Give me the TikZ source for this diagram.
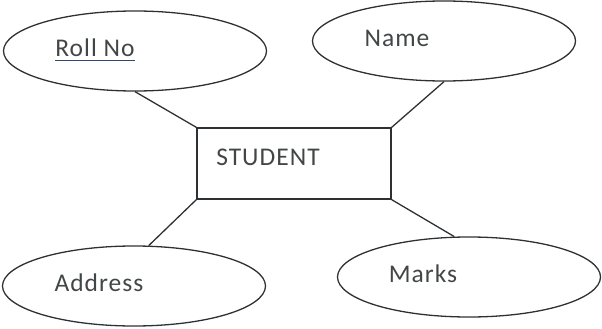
\documentclass[tikz,border=0pt]{standalone}
\usepackage{fontspec}
\setmainfont{Carlito}[LetterSpace=4]
\usetikzlibrary{shapes.geometric}
\definecolor{ink}{HTML}{2E3133}
\definecolor{keyblue}{HTML}{2F4A6E}

\begin{document}
\begin{tikzpicture}[x=1pt, y=-1pt]
    \tikzset
    {
        base/.style = {draw = ink,
                       line width = 1.3pt,
                       inner sep = 0pt},
        attr/.style = {base,
                       ellipse,
                       minimum width = 263pt,
                       minimum height = 80pt},
        entity/.style = {base,
                         rectangle,
                         minimum width = 194pt,
                         minimum height = 71pt},
        txt/.style = {text = ink!90,
                      inner sep = 0pt,
                      font = \fontsize{25.5}{30}\selectfont},
        link/.style = {draw = ink,
                       line width = 1.3pt}
    };
    \useasboundingbox (0,0) rectangle (602,329);

    % Row #
    % 1
    \node[attr, label={[txt, name=roll-lbl, xshift=-40pt, yshift=3pt]center:Roll No}] (roll) at (135,51) {};
    \node[attr, label={[txt, xshift=-47pt, yshift=3pt]center:Name}] (name) at (444,41) {};
    % 2
    \node[entity, label={[txt, xshift=-26pt, yshift=6pt]center:STUDENT}] (student) at (294,163.5) {};
    % 3
    \node[attr, label={[txt, xshift=-35pt, yshift=3pt]center:Address}] (address) at (134,286) {};
    \node[attr, label={[txt, xshift=-46pt, yshift=3pt]center:Marks}] (marks) at (469,277) {};

    % key underline
    \draw[keyblue, line width = 1.4pt]
        ([yshift=-3.5pt] roll-lbl.south west) -- ([yshift=-3.5pt] roll-lbl.south east);

    % Links
    \draw[link]
        (roll.south)    -- (student.north west)
        (name.south)    -- (student.north east)
        (address.70)    -- (student.south west)
        (marks.110)     -- (student.south east);

\end{tikzpicture}
\end{document}
